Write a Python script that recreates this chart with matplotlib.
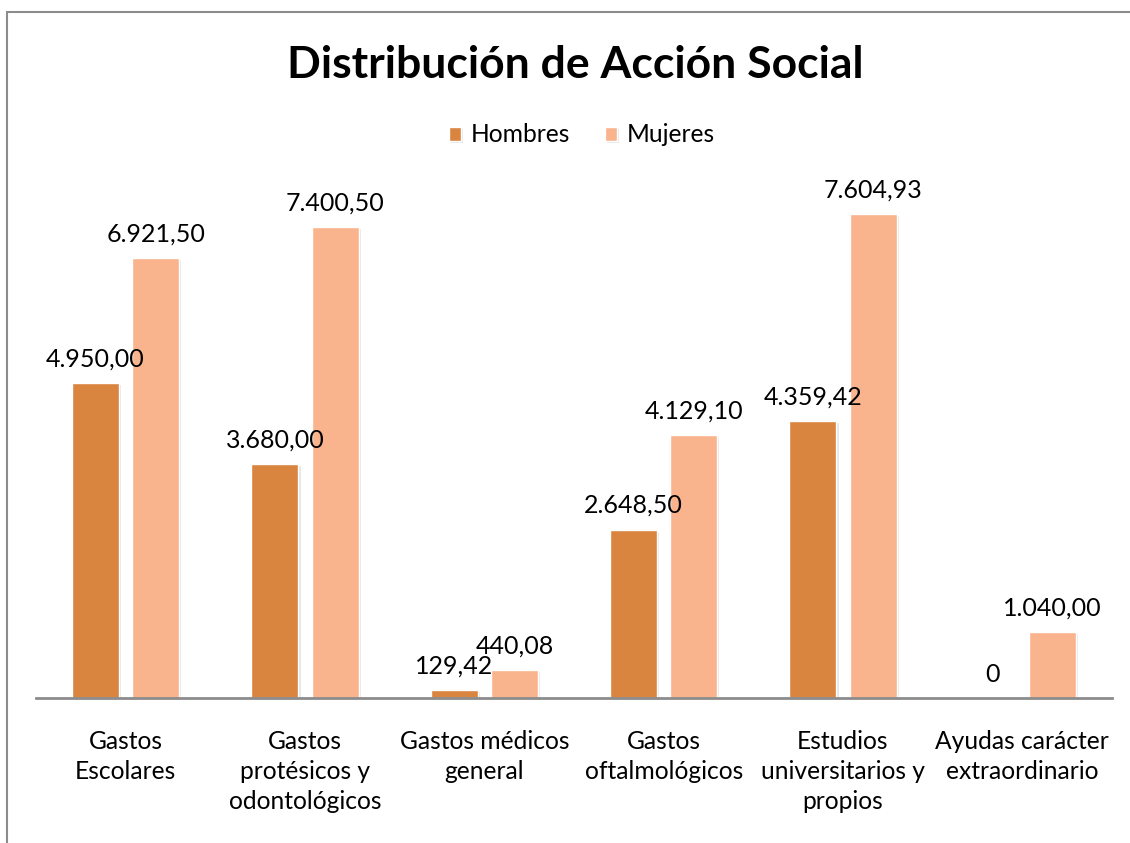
import matplotlib
matplotlib.use('Agg')
import matplotlib.pyplot as plt
import matplotlib.patheffects as pe
from matplotlib.patches import Rectangle
import numpy as np

plt.rcParams['font.family'] = ['Lato', 'DejaVu Sans']

categorias = ['Gastos\nEscolares', 'Gastos\nprotésicos y\nodontológicos', 'Gastos médicos\ngeneral',
              'Gastos\noftalmológicos', 'Estudios\nuniversitarios y\npropios', 'Ayudas carácter\nextraordinario']
hombres = [4950.00, 3680.00, 129.42, 2648.50, 4359.42, 0]
mujeres = [6921.50, 7400.50, 440.08, 4129.10, 7604.93, 1040.00]

COLOR_HOMBRES = '#D9843F'
COLOR_MUJERES = '#F9B48D'


def fmt_es(v):
    if v == 0:
        return '0'
    s = '{:,.2f}'.format(v)
    return s.replace(',', 'X').replace('.', ',').replace('X', '.')


fig = plt.figure(figsize=(11.3, 8.43), dpi=100)
ax = fig.add_axes([36 / 1130, 145 / 843, 1076 / 1130, 520 / 843])

# marco gris del grafico
fig.patches.append(Rectangle((7 / 1130, -0.1), 1.2, 1 - 12 / 843 + 0.1, transform=fig.transFigure,
                             fill=False, edgecolor='#8c8c8c', linewidth=1.5))

x = np.arange(len(categorias))
w = 0.263
off = 0.168
sombra = [pe.SimplePatchShadow(offset=(1.5, -1.5), shadow_rgbFace='#bbbbbb', alpha=0.35), pe.Normal()]

b1 = ax.bar(x - off, hombres, w, color=COLOR_HOMBRES, label='Hombres', edgecolor='white', linewidth=1)
b2 = ax.bar(x + off, mujeres, w, color=COLOR_MUJERES, label='Mujeres', edgecolor='white', linewidth=1)
for b in list(b1) + list(b2):
    b.set_path_effects(sombra)

for xi, v in zip(x - off, hombres):
    ax.annotate(fmt_es(v), (xi, v), xytext=(0, 9), textcoords='offset points',
                ha='center', va='bottom', fontsize=18)
for xi, v in zip(x + off, mujeres):
    ax.annotate(fmt_es(v), (xi, v), xytext=(0, 9), textcoords='offset points',
                ha='center', va='bottom', fontsize=18)

ax.set_xlim(-0.5, 5.5)
ax.set_ylim(0, 520 / 0.0636)
ax.set_xticks(x)
ax.set_xticklabels(categorias, fontsize=17.7, linespacing=1.36)
ax.tick_params(axis='x', length=0, pad=23)
ax.set_yticks([])
for s in ['top', 'right', 'left']:
    ax.spines[s].set_visible(False)
ax.spines['bottom'].set_color('#8c8c8c')
ax.spines['bottom'].set_linewidth(2)

fig.text(0.509, 1 - 65 / 843, 'Distribución de Acción Social', ha='center', va='center',
         fontsize=32, fontweight='bold')
fig.legend(handles=[b1, b2], loc='center', bbox_to_anchor=(0.515, 1 - 135 / 843), ncol=2,
           frameon=False, fontsize=17.7, handlelength=0.5, handleheight=0.5, handletextpad=0.4,
           columnspacing=1.4)

fig.savefig('out.png', dpi=100)
